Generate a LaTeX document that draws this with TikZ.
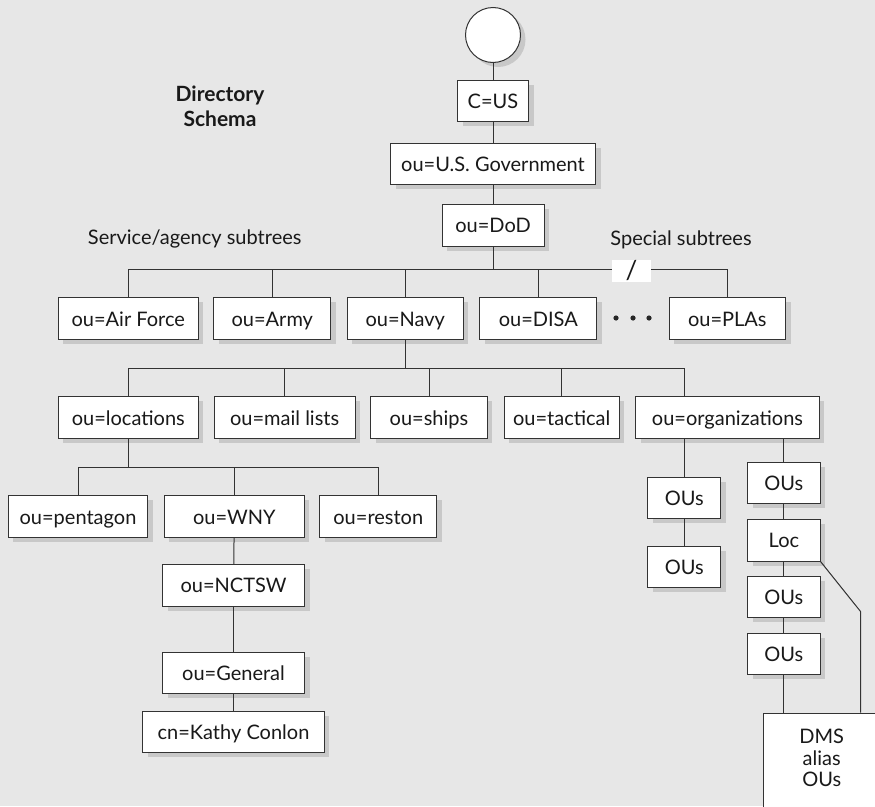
\documentclass[tikz,border=0pt]{standalone}
\usepackage{fontspec}
\setmainfont{Lato}
\usetikzlibrary{shadows}
\definecolor{bgc}{RGB}{231,231,231}
\definecolor{shc}{RGB}{200,200,200}
\tikzset{
  every node/.style={font=\fontsize{20}{23}\selectfont, text=black!90},
  box/.style={draw=black!80, line width=1pt, fill=white, inner sep=0pt,
    text height=15.5pt, text depth=0pt,
    drop shadow={shadow xshift=5pt, shadow yshift=-4.5pt, fill=shc, opacity=1}},
  conn/.style={draw=black!80, line width=1pt},
  lbl/.style={inner sep=0pt},
}
\begin{document}
\begin{tikzpicture}[x=1pt,y=-1pt]
\useasboundingbox (0,0) rectangle (875,806);
\fill[bgc] (0,0) rectangle (875,806);
\clip (0,0) rectangle (875,806);

% titles
\node[lbl, font=\fontsize{21}{25}\selectfont\bfseries, align=center] (title) at (220,106.5) {Directory\\Schema};
\node[lbl] (svc) at (194.7,239) {Service/agency subtrees};
\node[lbl] (spc) at (681,240) {Special subtrees};

% top chain
\node[box, circle, minimum size=55pt, text height=0pt] (root) at (493,35) {};
\node[box, minimum width=71pt, minimum height=41pt] (cus) at (493,100.5) {C=US};
\node[box, minimum width=205pt, minimum height=41pt] (gov) at (493,163.5) {ou=U.S. Government};
\node[box, minimum width=102pt, minimum height=42pt] (dod) at (493,225) {ou=DoD};

% level 1
\node[box, minimum width=139.7pt, minimum height=42pt] (af) at (128.3,318.4) {ou=Air Force};
\node[box, minimum width=116.7pt, minimum height=42pt] (army) at (272.3,318.4) {ou=Army};
\node[box, minimum width=116pt, minimum height=42pt] (navy) at (405.3,318.4) {ou=Navy};
\node[box, minimum width=116.7pt, minimum height=42pt] (disa) at (538.3,318.4) {ou=DISA};
\node[box, minimum width=116.4pt, minimum height=42pt] (plas) at (727.3,318.4) {ou=PLAs};

% level 2
\node[box, minimum width=139.7pt, minimum height=41.5pt] (locs) at (128.3,417.5) {ou=locations};
\node[box, minimum width=140.7pt, minimum height=41.5pt] (mail) at (284.7,417.5) {ou=mail lists};
\node[box, minimum width=116.6pt, minimum height=41.5pt] (ships) at (429,417.5) {ou=ships};
\node[box, minimum width=115.3pt, minimum height=41.5pt] (tact) at (561.7,417.5) {ou=tactical};
\node[box, minimum width=183.6pt, minimum height=41.5pt] (org) at (727.5,417.5) {ou=organizations};

% level 3
\node[box, minimum width=139.4pt, minimum height=41.6pt] (pent) at (78,516.5) {ou=pentagon};
\node[box, minimum width=140pt, minimum height=41.6pt] (wny) at (234.3,516.5) {ou=WNY};
\node[box, minimum width=116.7pt, minimum height=41.6pt] (reston) at (378.3,516.5) {ou=reston};

\node[box, minimum width=142pt, minimum height=41.7pt] (nctsw) at (233.5,585.2) {ou=NCTSW};
\node[box, minimum width=142pt, minimum height=41pt] (gen) at (233.5,672.8) {ou=General};
\node[box, minimum width=181.6pt, minimum height=41pt] (kathy) at (233.5,732.2) {cn=Kathy Conlon};

% right side
\node[box, minimum width=73pt, minimum height=41pt] (oul1) at (684.2,497.8) {OUs};
\node[box, minimum width=73pt, minimum height=41pt] (oul2) at (684.2,567.2) {OUs};
\node[box, minimum width=72.3pt, minimum height=40.6pt] (our1) at (783.9,483) {OUs};
\node[box, minimum width=72.3pt, minimum height=41.7pt] (locr) at (783.9,540.2) {Loc};
\node[box, minimum width=72.3pt, minimum height=41pt] (our3) at (783.9,597.2) {OUs};
\node[box, minimum width=72.3pt, minimum height=41pt] (our4) at (783.9,653.8) {OUs};
\node[box, minimum width=116.8pt, minimum height=110pt, anchor=north, text height=0pt] (dms) at (821.7,712.7) {};
\node[lbl, align=center, font=\fontsize{20}{21.6}\selectfont] (dmst) at (821.7,758) {DMS\\alias\\OUs};

% buses
\coordinate (b1l) at (128.3,269);
\coordinate (b1r) at (727.3,269);
\coordinate (b2l) at (128.3,368);
\coordinate (b2r) at (684.2,368);
\coordinate (b3l) at (78,467.3);
\coordinate (b3r) at (378.3,467.3);
\coordinate (bend) at (860.7,611.7);

\draw[conn] (root) -- (cus);
\draw[conn] (cus) -- (gov);
\draw[conn] (gov) -- (dod);
\draw[conn] (dod.south) -- (dod.south |- b1l);
\draw[conn] (b1l) -- (b1r);
\foreach \n in {af,army,navy,disa,plas} \draw[conn] (\n.north) -- (\n.north |- b1l);

\node[fill=white, minimum width=39pt, minimum height=22pt, inner sep=0pt, font=\fontsize{26}{28}\selectfont] (slash) at (631.5,271) {/};
\foreach \xx in {616,633,649} \fill[black!85] (\xx,318) circle (2.6pt);

\draw[conn] (navy.south) -- (navy.south |- b2l);
\draw[conn] (b2l) -- (b2r);
\foreach \n in {locs,mail,ships,tact} \draw[conn] (\n.north) -- (\n.north |- b2l);
\draw[conn] (b2r) -- (b2r |- org.north);

\draw[conn] (locs.south) -- (locs.south |- b3l);
\draw[conn] (b3l) -- (b3r);
\foreach \n in {pent,wny,reston} \draw[conn] (\n.north) -- (\n.north |- b3l);
\draw[conn] (wny) -- (nctsw);
\draw[conn] (nctsw) -- (gen);
\draw[conn] (gen) -- (kathy);

\draw[conn] (oul1.north) -- (oul1.north |- org.south);
\draw[conn] (our1.north) -- (our1.north |- org.south);
\draw[conn] (oul1) -- (oul2);
\draw[conn] (our1) -- (locr);
\draw[conn] (locr) -- (our3);
\draw[conn] (our3) -- (our4);
\draw[conn] (our4.south) -- (our4.south |- dms.north);
\draw[conn] (locr.south east) -- (bend) -- (bend |- dms.north);
\end{tikzpicture}
\end{document}
